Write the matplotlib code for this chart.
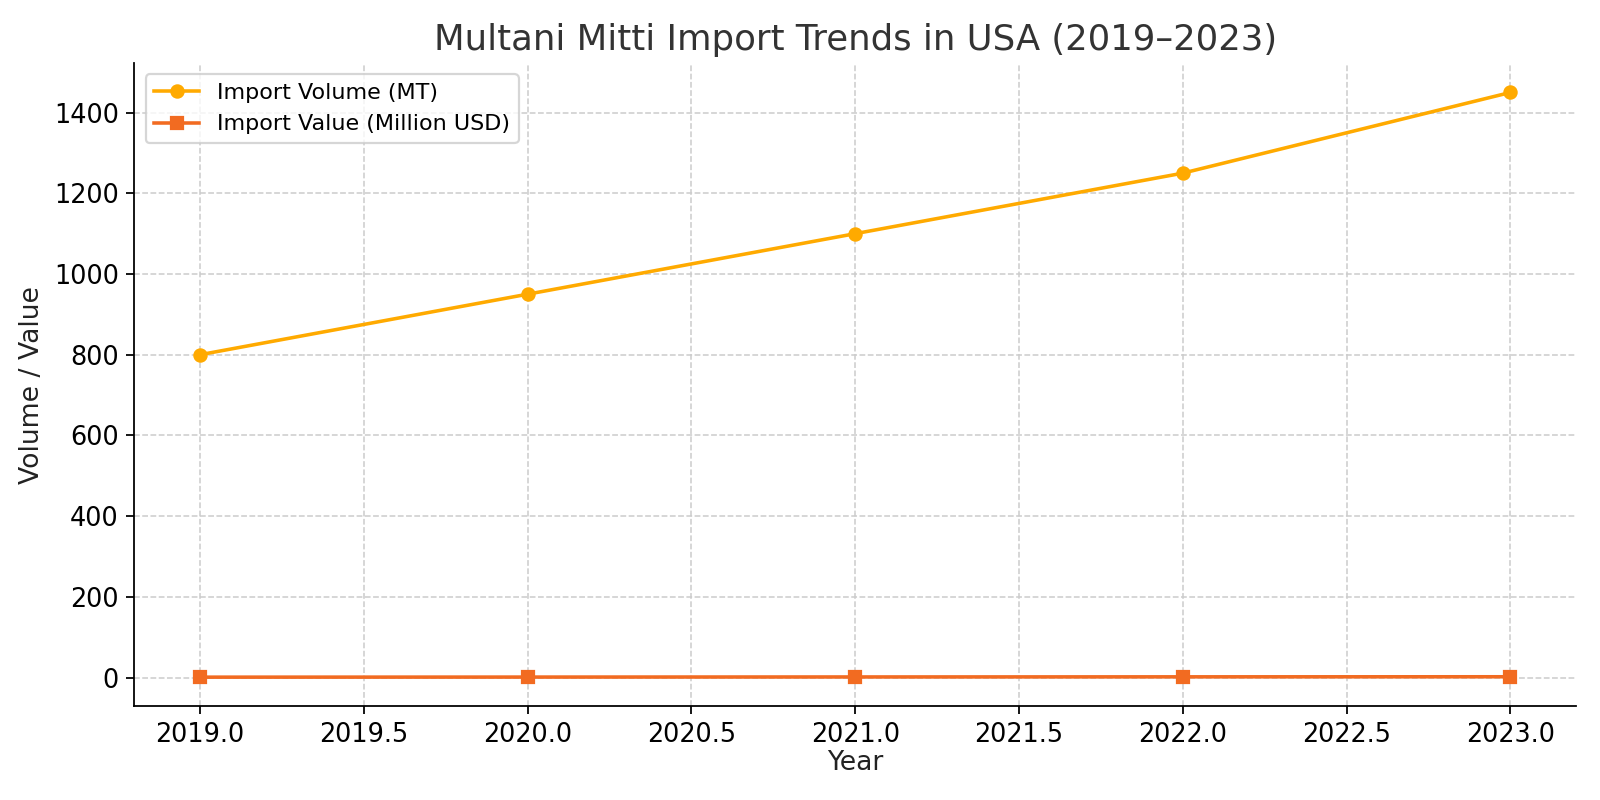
import matplotlib
matplotlib.use('Agg')
import matplotlib.pyplot as plt

# data
years = [2019, 2020, 2021, 2022, 2023]
import_volume = [800, 950, 1100, 1250, 1450]
import_value = [1.0, 1.2, 1.5, 1.8, 2.0]

fig, ax = plt.subplots(figsize=(10, 5), dpi=160)

ax.plot(years, import_volume, marker='o', color='#ffaa00', linewidth=1.6,
        markersize=5.5, label='Import Volume (MT)')
ax.plot(years, import_value, marker='s', color='#f26b21', linewidth=1.6,
        markersize=5.5, label='Import Value (Million USD)')

ax.set_title('Multani Mitti Import Trends in USA (2019\u20132023)', fontsize=16, color='#333333')
ax.set_xlabel('Year', fontsize=12, color='#222222', labelpad=1)
ax.set_ylabel('Volume / Value', fontsize=12, color='#222222')
ax.tick_params(labelsize=11.5)
ax.grid(True, linestyle='--', color='#cccccc', linewidth=0.7)
ax.spines['top'].set_visible(False)
ax.spines['right'].set_visible(False)
ax.legend(loc='upper left', fontsize=10)

plt.subplots_adjust(left=0.084, right=0.985, top=0.921, bottom=0.117)
plt.savefig('out.png')
